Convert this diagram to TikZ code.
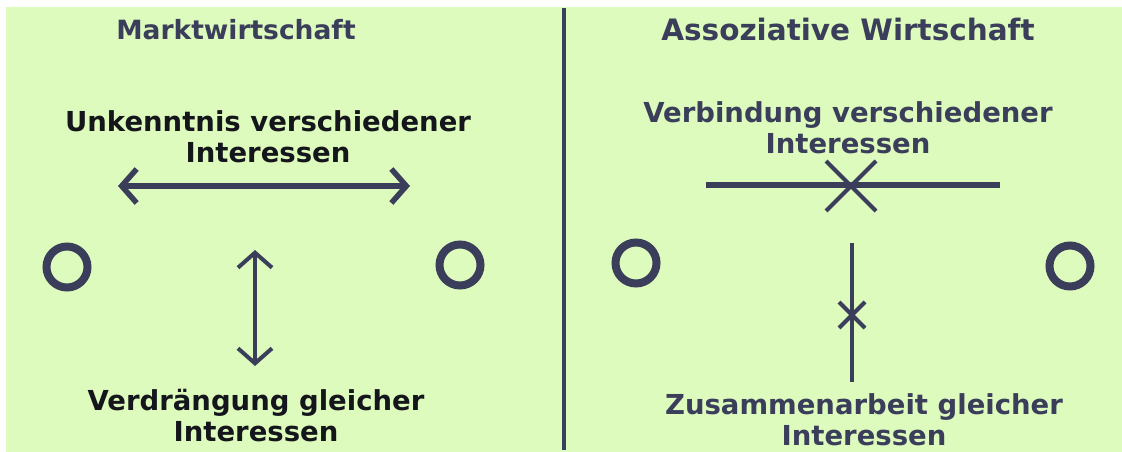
\documentclass[tikz,border=0pt]{standalone}
\usepackage{fontspec}
\setmainfont{DejaVu Sans}
\usetikzlibrary{arrows.meta}
\definecolor{bg}{RGB}{221,251,188}
\definecolor{ink}{RGB}{58,62,90}
\definecolor{dark}{RGB}{20,22,28}
\tikzset{
  title/.style={text=ink, inner sep=0pt},
  lbl/.style={text=dark, font=\bfseries\fontsize{27.5}{31}\selectfont, align=center, inner sep=0pt},
  rlbl/.style={text=ink, font=\bfseries\fontsize{27.5}{31}\selectfont, align=center, inner sep=0pt},
  ring/.style={draw=ink, line width=8pt, circle, minimum size=41pt, inner sep=0pt},
  conn/.style={draw=ink, line width=5.5pt},
  dbl/.style={conn, {Straight Barb[length=15pt,width=34pt]}-{Straight Barb[length=15pt,width=34pt]}},
  crossline/.style={draw=ink, line width=4pt}
}
\begin{document}
\begin{tikzpicture}[x=1pt,y=-1pt]
\useasboundingbox (0,0) rectangle (1122,452);
\fill[white] (0,0) rectangle (1122,452);
\fill[bg] (6,7) rectangle (1122,452);
% divider
\coordinate (dtop) at (564,8);
\coordinate (dbot) at (564,450);
\draw[draw=ink, line width=4.5pt] (dtop) -- (dbot);
% left panel
\node[title, font=\bfseries\fontsize{26.5}{30}\selectfont] (t1) at (236,30) {Marktwirtschaft};
\node[lbl] (u1) at (268,137) {Unkenntnis verschiedener\\Interessen};
\node[ring] (c1) at (67,267) {};
\node[ring] (c2) at (460,265) {};
\coordinate (ha) at (118,186);
\coordinate (hb) at (410,186);
\draw[dbl] (ha) -- (hb);
\coordinate (va) at (255,250);
\coordinate (vb) at (255,366);
\draw[dbl, line width=4pt] (va) -- (vb);
\node[lbl] (v1) at (256,416) {Verdrängung gleicher\\Interessen};
% right panel
\node[title, font=\bfseries\fontsize{29.5}{33}\selectfont] (t2) at (848,30) {Assoziative Wirtschaft};
\node[rlbl] (u2) at (848,128) {Verbindung verschiedener\\Interessen};
\node[ring] (c3) at (636,263) {};
\node[ring] (c4) at (1070,266) {};
\coordinate (la) at (706,185);
\coordinate (lb) at (1000,185);
\draw[conn] (la) -- (lb);
\coordinate (xa) at (826,161);
\coordinate (xb) at (876,211);
\coordinate (xc) at (876,161);
\coordinate (xd) at (826,211);
\draw[crossline] (xa) -- (xb);
\draw[crossline] (xc) -- (xd);
\coordinate (wa) at (852,243);
\coordinate (wb) at (852,382);
\draw[crossline] (wa) -- (wb);
\coordinate (ya) at (839,302);
\coordinate (yb) at (865,328);
\coordinate (yc) at (865,302);
\coordinate (yd) at (839,328);
\draw[crossline] (ya) -- (yb);
\draw[crossline] (yc) -- (yd);
\node[rlbl] (z1) at (864,420) {Zusammenarbeit gleicher\\Interessen};
\end{tikzpicture}
\end{document}
